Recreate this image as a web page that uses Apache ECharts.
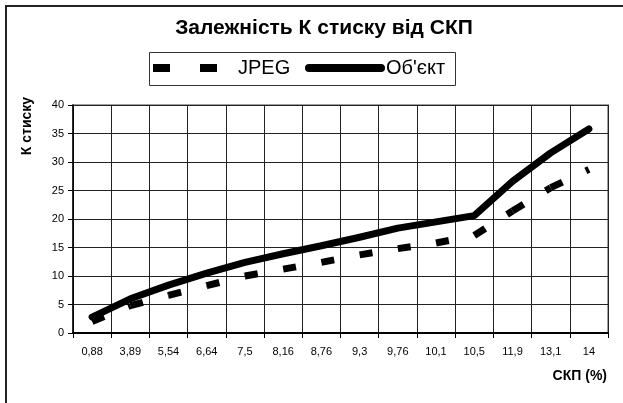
<!DOCTYPE html>
<html>
<head>
<meta charset="utf-8">
<script src="https://cdn.jsdelivr.net/npm/echarts@6/dist/echarts.min.js"></script>
<style>
  html, body { margin: 0; padding: 0; background: #fff; }
  #chart { width: 623px; height: 403px; }
</style>
</head>
<body>
<div id="chart"></div>
<script>
// СКП values (%) along the category axis
const categories = ['0,88', '3,89', '5,54', '6,64', '7,5', '8,16', '8,76', '9,3', '9,76', '10,1', '10,5', '11,9', '13,1', '14'];
// Compression ratio for JPEG
const jpegValues = [2.0, 4.8, 6.6, 8.3, 10.0, 11.2, 12.4, 13.7, 14.8, 15.8, 17.1, 21.4, 25.5, 28.7];
// Compression ratio for the object method
const objectValues = [2.8, 6.0, 8.4, 10.5, 12.4, 13.9, 15.3, 16.8, 18.4, 19.5, 20.6, 26.6, 31.6, 35.8];
// Value axis range
const yMin = 0, yMax = 40, yStep = 5;

const FONT = 'Liberation Sans, Arial, sans-serif';

// Each JPEG segment is drawn on its own so the dash pattern restarts at every point
const jpegSegments = jpegValues.slice(0, -1).map((v, i) => [i, v, jpegValues[i + 1]]);

const chart = echarts.init(document.getElementById('chart'), null, { renderer: 'canvas' });

chart.setOption({
  animation: false,
  backgroundColor: '#fff',
  title: {
    text: 'Залежність К стиску від СКП',
    left: 319,
    top: 13,
    textAlign: 'center',
    textStyle: { fontFamily: FONT, fontSize: 21, fontWeight: 'bold', color: '#000' }
  },
  legend: [
    {
      data: [{ name: 'JPEG', icon: 'path://M0,0h17v8h-17z M47,0h17v8h-17z' }],
      left: 153,
      top: 58,
      padding: 0,
      itemWidth: 64,
      itemHeight: 8,
      symbolKeepAspect: false,
      selectedMode: false,
      textStyle: { fontFamily: FONT, fontSize: 20, color: '#000', padding: [0, 0, 0, 16] }
    },
    {
      data: [{ name: "Об'єкт", icon: 'path://M4,0h72a4,4 0 0 1 0,8h-72a4,4 0 0 1 0,-8z' }],
      left: 305,
      top: 58,
      padding: 0,
      itemWidth: 80,
      itemHeight: 8,
      symbolKeepAspect: false,
      selectedMode: false,
      textStyle: { fontFamily: FONT, fontSize: 20, color: '#000', padding: [0, 0, 0, -4] }
    }
  ],
  grid: {
    left: 73,
    right: 15,
    top: 105,
    bottom: 70,
    show: true,
    borderColor: '#a0a0a0',
    borderWidth: 2,
    backgroundColor: 'transparent'
  },
  xAxis: {
    type: 'category',
    data: categories,
    boundaryGap: true,
    axisLine: { show: true, lineStyle: { color: '#000', width: 2 } },
    axisTick: { show: true, interval: 0, length: 5, lineStyle: { color: '#000', width: 1 } },
    axisLabel: { interval: 0, margin: 13, fontFamily: FONT, fontSize: 11, color: '#000' },
    splitLine: { show: true, interval: 0, lineStyle: { color: '#222', width: 1 } }
  },
  yAxis: {
    type: 'value',
    min: yMin,
    max: yMax,
    interval: yStep,
    axisLine: { show: true, lineStyle: { color: '#000', width: 1.5 } },
    axisTick: { show: true, length: 5, lineStyle: { color: '#000', width: 1 } },
    axisLabel: { margin: 9, fontFamily: FONT, fontSize: 11, color: '#000' },
    splitLine: { show: true, lineStyle: { color: '#222', width: 1 } }
  },
  graphic: [
    // outer chart frame
    { type: 'rect', shape: { x: 6, y: 6, width: 700, height: 500 }, style: { fill: 'none', stroke: '#222', lineWidth: 2 }, silent: true, z: 0 },
    // legend frame
    { type: 'rect', shape: { x: 149.5, y: 52.5, width: 306, height: 33 }, style: { fill: 'none', stroke: '#333', lineWidth: 1 }, silent: true },
    // axis titles
    { type: 'text', x: 27, y: 126, rotation: Math.PI / 2,
      style: { text: 'К стиску', font: 'bold 14px ' + FONT, fill: '#000', align: 'center', verticalAlign: 'middle' } },
    { type: 'text', x: 607, y: 376,
      style: { text: 'СКП (%)', font: 'bold 14px ' + FONT, fill: '#000', align: 'right', verticalAlign: 'middle' } }
  ],
  series: [
    {
      name: 'JPEG',
      type: 'custom',
      data: jpegSegments,
      encode: { x: 0, y: 1 },
      itemStyle: { color: '#000' },
      z: 3,
      renderItem: function (params, api) {
        const i = api.value(0);
        const a = api.coord([i, api.value(1)]);
        const b = api.coord([i + 1, api.value(2)]);
        return {
          type: 'line',
          shape: { x1: a[0], y1: a[1], x2: b[0], y2: b[1] },
          style: { stroke: '#000', lineWidth: 7, lineDash: [13, 26], lineCap: 'butt', fill: null }
        };
      }
    },
    {
      name: "Об'єкт",
      type: 'line',
      data: objectValues,
      symbol: 'none',
      itemStyle: { color: '#000' },
      lineStyle: { color: '#000', width: 7, cap: 'round', join: 'round' },
      z: 4
    }
  ]
});
</script>
</body>
</html>
